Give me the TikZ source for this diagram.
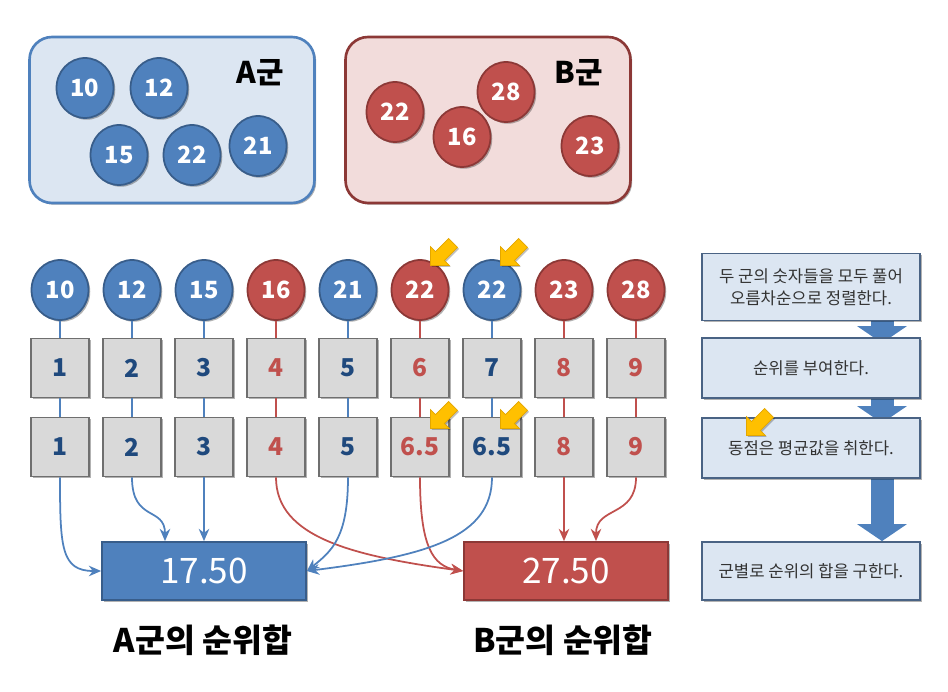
\documentclass[tikz,border=0pt]{standalone}
\usepackage{fontspec}
\setmainfont{Noto Sans CJK KR}
\usetikzlibrary{arrows.meta,shapes.geometric,shapes.arrows,shadows,backgrounds,calc}

\definecolor{blueF}{HTML}{4F81BD}
\definecolor{blueD}{HTML}{385D8A}
\definecolor{redF}{HTML}{C0504D}
\definecolor{redD}{HTML}{8C3836}
\definecolor{numA}{HTML}{1F497D}
\definecolor{numB}{HTML}{C0504D}
\definecolor{paleA}{HTML}{DCE6F2}
\definecolor{paleB}{HTML}{F2DCDB}
\definecolor{rankF}{HTML}{D9D9D9}
\definecolor{rankD}{HTML}{6F6F6F}
\definecolor{flowD}{HTML}{4A6384}
\definecolor{yel}{HTML}{FFC000}
\definecolor{yelD}{HTML}{E3A600}

\begin{document}
\begin{tikzpicture}[x=0.02cm, y=-0.02cm,
  shade/.style={drop shadow={shadow xshift=1pt, shadow yshift=-1pt, opacity=0.3, fill=black}},
  ballA/.style={ellipse, draw=blueD, line width=1pt, fill=blueF, text=white, minimum width=1.14cm, minimum height=1.2cm, inner sep=0pt, font=\fontsize{13.5}{15}\selectfont\bfseries, shade},
  ballB/.style={ballA, draw=redD, fill=redF},
  rank/.style={rectangle, draw=rankD, line width=1pt, fill=rankF, minimum width=1.16cm, minimum height=1.18cm, inner sep=0pt, font=\fontsize{14}{16}\selectfont\bfseries, shade},
  lineA/.style={draw=blueF, line width=1pt},
  lineB/.style={draw=redF, line width=1pt},
  toA/.style={lineA, -{Stealth[length=7pt, width=6pt]}},
  toB/.style={lineB, -{Stealth[length=7pt, width=6pt]}},
  grp/.style={rectangle, rounded corners=0.45cm, line width=1.5pt, minimum width=5.7cm, minimum height=3.32cm, shade},
  sumbox/.style={rectangle, line width=1pt, text=white, minimum width=4.08cm, minimum height=1.16cm, font=\fontsize{20}{24}\selectfont, shade},
  flow/.style={rectangle, draw=flowD, fill=paleA, line width=1pt, minimum width=4.36cm, align=center, text=black!80, font=\fontsize{9.5}{12.5}\selectfont, shade},
  blockarrow/.style={draw=blueF, line width=0.46cm, -{Triangle[width=0.98cm, length=0.34cm]}},
  yarrow/.style={single arrow, fill=yel, draw=yelD, line width=0.4pt, minimum height=0.64cm, inner xsep=0pt, inner ysep=0.12cm, single arrow head extend=0.14cm, rotate=225, drop shadow={shadow xshift=0.8pt, shadow yshift=-0.8pt, opacity=0.25, fill=black}}]
\useasboundingbox (0,0) rectangle (948,692);

% the two groups
\node[grp, draw=blueF, fill=paleA] (grpA) at (172,120) {};
\node[grp, draw=redD, fill=paleB] (grpB) at (488,120) {};
\node[font=\fontsize{17}{20}\selectfont\bfseries] (labA) at (260,73) {A군};
\node[font=\fontsize{17}{20}\selectfont\bfseries] (labB) at (579,73) {B군};
\node[ballA] (a1) at (85,88) {10};
\node[ballA] (a2) at (159,88) {12};
\node[ballA] (a3) at (119,155) {15};
\node[ballA] (a4) at (192,155) {22};
\node[ballA] (a5) at (258,146) {21};
\node[ballB] (b1) at (395,112) {22};
\node[ballB] (b2) at (506,92) {28};
\node[ballB] (b3) at (462,137) {16};
\node[ballB] (b4) at (590,146) {23};

% sorted values and ranks
\foreach \i/\v/\r/\t/\g in {1/10/1/1/A, 2/12/2/2/A, 3/15/3/3/A, 4/16/4/4/B, 5/21/5/5/A, 6/22/6/6.5/B, 7/22/7/6.5/A, 8/23/8/8/B, 9/28/9/9/B} {
  \node[ball\g] (c\i) at (-12+72*\i,290) {\v};
  \node[rank, text=num\g] (r\i) at (-12+72*\i,368) {\r};
  \node[rank, text=num\g] (s\i) at (-12+72*\i,447) {\t};
  \draw[line\g] (c\i) -- (r\i) (r\i) -- (s\i);
}

% rank sums
\node[sumbox, fill=blueF, draw=blueD] (sumA) at (204,571) {17.50};
\node[sumbox, fill=redF, draw=redD] (sumB) at (566,571) {27.50};
\node[font=\fontsize{18.5}{22}\selectfont\bfseries] (nameA) at (203,640) {A군의 순위합};
\node[font=\fontsize{18.5}{22}\selectfont\bfseries] (nameB) at (563,640) {B군의 순위합};

\draw[toA] (s1.south) .. controls +(0,70) and +(-40,0) .. (sumA.west);
\draw[toA] (s2.south) .. controls +(0,45) and +(0,-35) .. ([xshift=-0.78cm]sumA.north);
\draw[toA] (s3.south) -- (s3.south |- sumA.north);
\draw[toB] (s4.south) .. controls +(0,60) and +(-110,-15) .. (sumB.west);
\draw[toA] (s5.south) .. controls +(0,60) and +(25,-20) .. (sumA.east);
\draw[toB] (s6.south) .. controls +(0,70) and +(-30,-5) .. (sumB.west);
\draw[toA] (s7.south) .. controls +(0,60) and +(120,-15) .. (sumA.east);
\draw[toB] (s8.south) -- (s8.south |- sumB.north);
\draw[toB] (s9.south) .. controls +(0,40) and +(0,-35) .. ([xshift=0.6cm]sumB.north);

% ties
\node[yarrow] (y1) at (444,252) {};
\node[yarrow] (y2) at (514,252) {};
\node[yarrow] (y3) at (444,415) {};
\node[yarrow] (y4) at (514,415) {};

% steps
\node[flow, minimum height=1.34cm] (f1) at (811,287) {두 군의 숫자들을 모두 풀어\\오름차순으로 정렬한다.};
\node[flow, minimum height=1.2cm] (f2) at (811,368) {순위를 부여한다.};
\node[flow, minimum height=1.2cm] (f3) at (811,448) {동점은 평균값을 취한다.};
\node[flow, minimum height=1.16cm] (f4) at (811,571) {군별로 순위의 합을 구한다.};
\node[yarrow] (y5) at (760,422) {};

\coordinate (ax) at (882,0);
\begin{scope}[on background layer]
\draw[blockarrow] (f1.south -| ax) -- ($(f2.north -| ax)+(0,6)$);
\draw[blockarrow] (f2.south -| ax) -- ($(f3.north -| ax)+(0,6)$);
\draw[blockarrow] (f3.south -| ax) -- (f4.north -| ax);
\end{scope}
\end{tikzpicture}
\end{document}
